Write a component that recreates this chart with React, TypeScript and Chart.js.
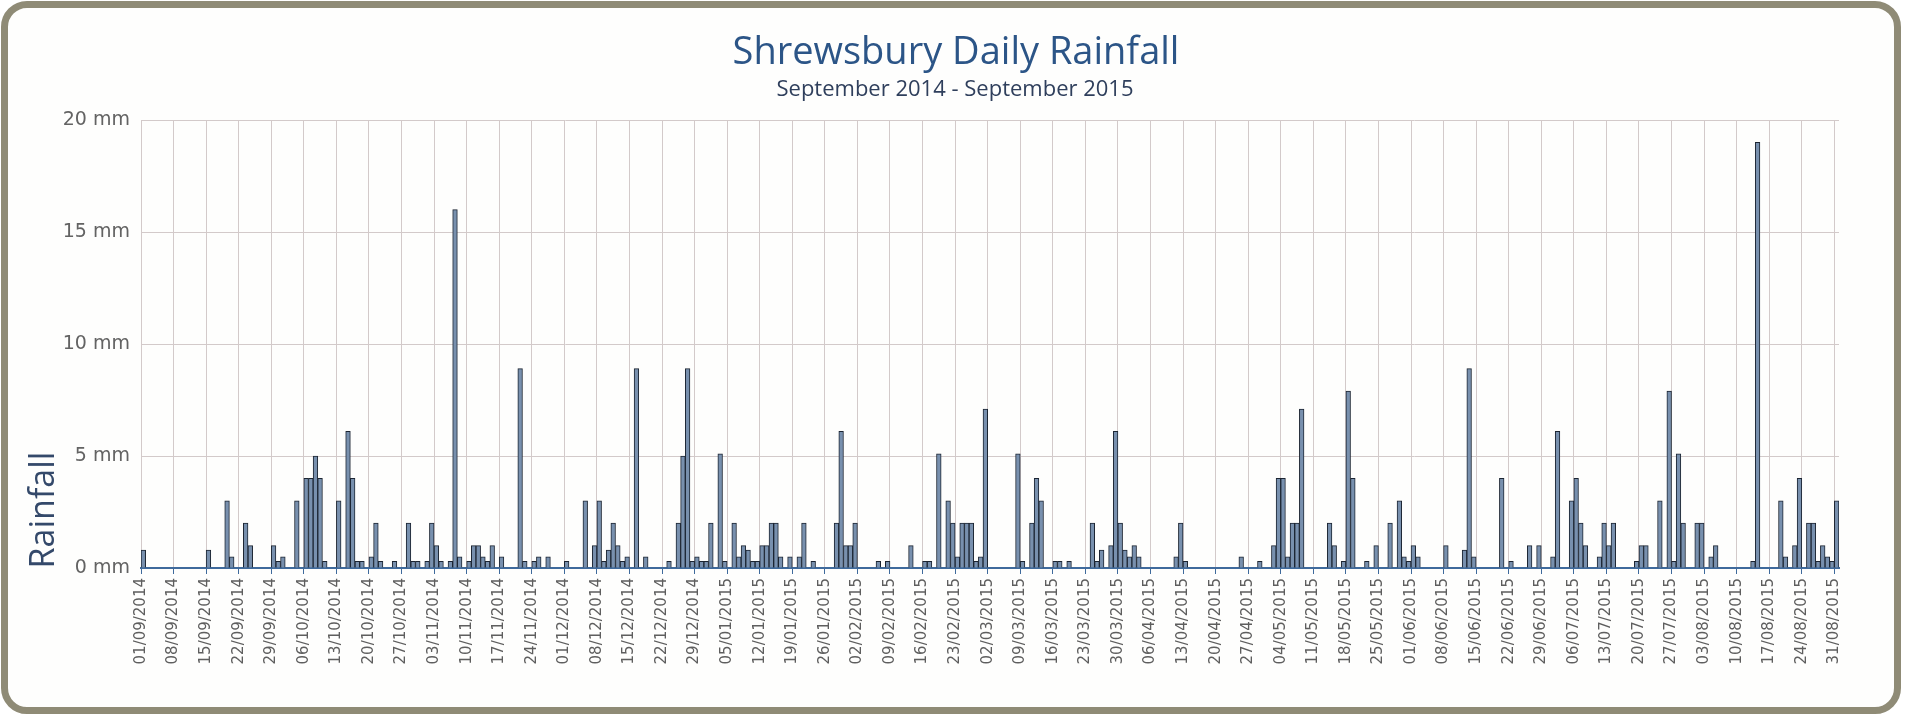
import React, { useEffect, useRef } from "react";
import { Chart, registerables } from "chart.js";

Chart.register(...registerables);

// ---- Data (daily rainfall in mm, one value per day, 01/09/2014 .. 31/08/2015) ----
const sep2014 = [0.8, 0, 0, 0, 0, 0, 0, 0, 0, 0, 0, 0, 0, 0, 0.8, 0, 0, 0, 3, 0.5, 0, 0, 2, 1, 0, 0, 0, 0, 1, 0.3];
const oct2014 = [0.5, 0, 0, 3, 0, 4, 4, 5, 4, 0.3, 0, 0, 3, 0, 6.1, 4, 0.3, 0.3, 0, 0.5, 2, 0.3, 0, 0, 0.3, 0, 0, 2, 0.3, 0.3, 0];
const nov2014 = [0.3, 2, 1, 0.3, 0, 0.3, 16, 0.5, 0, 0.3, 1, 1, 0.5, 0.3, 1, 0, 0.5, 0, 0, 0, 8.9, 0.3, 0, 0.3, 0.5, 0, 0.5, 0, 0, 0];
const dec2014 = [0.3, 0, 0, 0, 3, 0, 1, 3, 0.3, 0.8, 2, 1, 0.3, 0.5, 0, 8.9, 0, 0.5, 0, 0, 0, 0, 0.3, 0, 2, 5, 8.9, 0.3, 0.5, 0.3, 0.3];
const jan2015 = [2, 0, 5.1, 0.3, 0, 2, 0.5, 1, 0.8, 0.3, 0.3, 1, 1, 2, 2, 0.5, 0, 0.5, 0, 0.5, 2, 0, 0.3, 0, 0, 0, 0, 2, 6.1, 1, 1];
const feb2015 = [2, 0, 0, 0, 0, 0.3, 0, 0.3, 0, 0, 0, 0, 1, 0, 0, 0.3, 0.3, 0, 5.1, 0, 3, 2, 0.5, 2, 2, 2, 0.3, 0.5];
const mar2015 = [7.1, 0, 0, 0, 0, 0, 0, 5.1, 0.3, 0, 2, 4, 3, 0, 0, 0.3, 0.3, 0, 0.3, 0, 0, 0, 0, 2, 0.3, 0.8, 0, 1, 6.1, 2, 0.8];
const apr2015 = [0.5, 1, 0.5, 0, 0, 0, 0, 0, 0, 0, 0.5, 2, 0.3, 0, 0, 0, 0, 0, 0, 0, 0, 0, 0, 0, 0.5, 0, 0, 0, 0.3, 0];
const may2015 = [0, 1, 4, 4, 0.5, 2, 2, 7.1, 0, 0, 0, 0, 0, 2, 1, 0, 0.3, 7.9, 4, 0, 0, 0.3, 0, 1, 0, 0, 2, 0, 3, 0.5, 0.3];
const jun2015 = [1, 0.5, 0, 0, 0, 0, 0, 1, 0, 0, 0, 0.8, 8.9, 0.5, 0, 0, 0, 0, 0, 4, 0, 0.3, 0, 0, 0, 1, 0, 1, 0, 0];
const jul2015 = [0.5, 6.1, 0, 0, 3, 4, 2, 1, 0, 0, 0.5, 2, 1, 2, 0, 0, 0, 0, 0.3, 1, 1, 0, 0, 3, 0, 7.9, 0.3, 5.1, 2, 0, 0];
const aug2015 = [2, 2, 0, 0.5, 1, 0, 0, 0, 0, 0, 0, 0, 0.3, 19, 0, 0, 0, 0, 3, 0.5, 0, 1, 4, 0, 2, 2, 0.3, 1, 0.5, 0.3, 3];

const dailyRainfall = [
  ...sep2014, ...oct2014, ...nov2014, ...dec2014, ...jan2015, ...feb2015,
  ...mar2015, ...apr2015, ...may2015, ...jun2015, ...jul2015, ...aug2015,
];

const START_YEAR = 2014;
const START_MONTH_INDEX = 8; // September
const START_DAY = 1;
const TICK_EVERY_DAYS = 7;
const Y_MAX = 20;
const Y_STEP = 5;

const CHART_TITLE = "Shrewsbury Daily Rainfall";
const CHART_SUBTITLE = "September 2014 - September 2015";
const Y_TITLE = "Rainfall";

function dayLabel(dayIndex: number): string {
  const d = new Date(Date.UTC(START_YEAR, START_MONTH_INDEX, START_DAY + dayIndex));
  const dd = String(d.getUTCDate()).padStart(2, "0");
  const mm = String(d.getUTCMonth() + 1).padStart(2, "0");
  return `${dd}/${mm}/${d.getUTCFullYear()}`;
}

const W = 1910;
const H = 715;

const textPlugin = {
  id: "rainTexts",
  afterDraw(chart: any) {
    const ctx = chart.ctx as CanvasRenderingContext2D;
    ctx.save();
    ctx.textAlign = "center";
    ctx.textBaseline = "middle";
    ctx.fillStyle = "#2c5587";
    ctx.font = "38px 'Open Sans', sans-serif";
    ctx.fillText(CHART_TITLE, 956, 53);
    ctx.fillStyle = "#2f3f5c";
    ctx.font = "22px 'Open Sans', sans-serif";
    ctx.fillText(CHART_SUBTITLE, 955, 90);
    ctx.translate(44, 510);
    ctx.rotate(-Math.PI / 2);
    ctx.fillStyle = "#34496a";
    ctx.font = "34px 'Open Sans', sans-serif";
    ctx.fillText(Y_TITLE, 0, 0);
    ctx.restore();
  },
};

export default function App() {
  const canvasRef = useRef<HTMLCanvasElement | null>(null);

  useEffect(() => {
    const canvas = canvasRef.current;
    if (!canvas) return;
    const font = "'DejaVu Sans', sans-serif";
    const nDays = dailyRainfall.length;
    const chart = new Chart(canvas, {
      type: "bar",
      data: {
        datasets: [
          {
            label: "Rainfall",
            data: dailyRainfall.map((v, i) => ({ x: i + 0.5, y: v })),
            backgroundColor: "#7890ae",
            borderColor: "#1c2532",
            borderWidth: 1,
            categoryPercentage: 1,
            barPercentage: 1,
          } as any,
        ],
      },
      options: {
        responsive: false,
        animation: false,
        devicePixelRatio: 1,
        layout: { padding: { left: 61, right: 71, top: 120, bottom: 17 } },
        plugins: {
          legend: { display: false },
          tooltip: { enabled: false },
          title: { display: false },
        },
        scales: {
          x: {
            type: "linear",
            min: 0,
            max: nDays,
            bounds: "data",
            offset: false,
            grid: {
              color: "#d3caca",
              lineWidth: 1,
              offset: false,
              drawTicks: true,
              tickLength: 6,
              tickColor: "#3f6a9c",
            },
            border: { display: true, color: "#3f6a9c", width: 2 },
            ticks: {
              stepSize: TICK_EVERY_DAYS,
              maxTicksLimit: 100,
              autoSkip: false,
              includeBounds: false,
              minRotation: 90,
              maxRotation: 90,
              padding: 4,
              color: "#5e5e5e",
              font: { family: font, size: 15 },
              callback: (v: any) => dayLabel(Number(v)),
            },
            afterBuildTicks: (s: any) => {
              s.ticks = s.ticks.filter((t: any) => t.value < nDays);
            },
            afterFit: (s: any) => {
              s.height = 130;
            },
          } as any,
          y: {
            min: 0,
            max: Y_MAX,
            grid: { color: "#d3caca", lineWidth: 1, drawTicks: false },
            border: { display: false },
            ticks: {
              stepSize: Y_STEP,
              padding: 11,
              color: "#636363",
              font: { family: font, size: 19 },
              callback: (v: any) => `${v} mm`,
            },
            afterFit: (s: any) => {
              s.width = 80;
            },
          } as any,
        },
      },
      plugins: [textPlugin],
    });
    return () => chart.destroy();
  }, []);

  return (
    <div style={{ position: "absolute", left: 0, top: 0, width: W, height: H, background: "#ffffff" }}>
      <div
        style={{
          position: "absolute",
          left: 1,
          top: 1,
          width: 1900,
          height: 713,
          boxSizing: "border-box",
          border: "7px solid #8f8b76",
          borderRadius: 26,
          background: "#fefefd",
        }}
      />
      <canvas
        ref={canvasRef}
        width={W}
        height={H}
        style={{ position: "absolute", left: 0, top: 0, width: W, height: H, display: "block" }}
      />
    </div>
  );
}
